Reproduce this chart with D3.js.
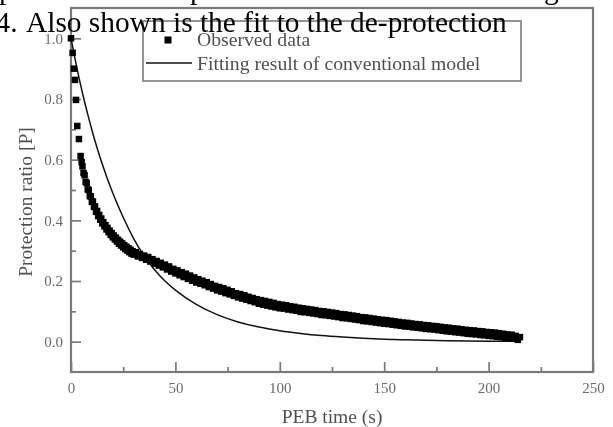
<!DOCTYPE html>
<html><head><meta charset="utf-8">
<script src="https://cdn.jsdelivr.net/npm/d3@7"></script>
<style>html,body{margin:0;padding:0;background:#fff;overflow:hidden}</style>
</head><body>
<svg id="chart" width="613" height="427"></svg>
<script>
// Measured protection ratio during post-exposure bake
const obsTime = [0, 0.8, 1.4, 1.9, 2.4, 3.0, 3.8, 4.6, 5.1,
  5.5, 6, 6.5, 7, 7.5, 8, 8.5, 9, 9.5, 10,
  10.5, 11, 11.5, 12, 12.5, 13, 13.5, 14, 14.5, 15,
  15.5, 16, 16.5, 17, 17.5, 18, 18.5, 19, 19.5, 20,
  20.5, 21, 21.5, 22, 22.5, 23, 23.5, 24, 24.5, 25,
  25.5, 26, 26.5, 27, 27.5, 28, 28.5, 29, 29.5, 30,
  31, 32, 33, 34, 35, 36, 37, 38, 39, 40,
  41, 42, 43, 44, 45, 46, 47, 48, 49, 50,
  51, 52, 53, 54, 55, 56, 57, 58, 59, 60,
  61, 62, 63, 64, 65, 66, 67, 68, 69, 70,
  71, 72, 73, 74, 75, 76, 77, 78, 79, 80,
  81, 82, 83, 84, 85, 86, 87, 88, 89, 90,
  91, 92, 93, 94, 95, 96, 97, 98, 99, 100,
  101, 102, 103, 104, 105, 106, 107, 108, 109, 110,
  111, 112, 113, 114, 115, 116, 117, 118, 119, 120,
  121, 122, 123, 124, 125, 126, 127, 128, 129, 130,
  131, 132, 133, 134, 135, 136, 137, 138, 139, 140,
  141, 142, 143, 144, 145, 146, 147, 148, 149, 150,
  151, 152, 153, 154, 155, 156, 157, 158, 159, 160,
  161, 162, 163, 164, 165, 166, 167, 168, 169, 170,
  171, 172, 173, 174, 175, 176, 177, 178, 179, 180,
  181, 182, 183, 184, 185, 186, 187, 188, 189, 190,
  191, 192, 193, 194, 195, 196, 197, 198, 199, 200,
  201, 202, 203, 204, 205, 206, 207, 208, 209, 210,
  211, 212, 213, 214, 215];
const obsRatio = [1.0, 0.952, 0.9, 0.863, 0.797, 0.711, 0.668, 0.612, 0.592,
  0.578, 0.556, 0.549, 0.527, 0.523, 0.502, 0.500, 0.480, 0.479, 0.461,
  0.462, 0.444, 0.446, 0.428, 0.431, 0.414, 0.418, 0.402, 0.406, 0.390,
  0.394, 0.380, 0.384, 0.370, 0.375, 0.361, 0.366, 0.352, 0.358, 0.344,
  0.350, 0.337, 0.343, 0.330, 0.336, 0.323, 0.330, 0.317, 0.324, 0.311,
  0.318, 0.305, 0.313, 0.300, 0.308, 0.295, 0.303, 0.290, 0.298, 0.287,
  0.295, 0.281, 0.289, 0.276, 0.284, 0.270, 0.279, 0.264, 0.272, 0.257,
  0.266, 0.251, 0.260, 0.245, 0.254, 0.238, 0.248, 0.231, 0.240, 0.225,
  0.235, 0.219, 0.229, 0.213, 0.224, 0.207, 0.218, 0.201, 0.212, 0.195,
  0.206, 0.191, 0.201, 0.186, 0.196, 0.180, 0.190, 0.175, 0.184, 0.169,
  0.180, 0.165, 0.176, 0.160, 0.171, 0.156, 0.166, 0.151, 0.160, 0.146,
  0.157, 0.142, 0.153, 0.138, 0.148, 0.134, 0.144, 0.130, 0.140, 0.125,
  0.137, 0.122, 0.134, 0.119, 0.131, 0.116, 0.128, 0.113, 0.124, 0.110,
  0.122, 0.109, 0.120, 0.106, 0.117, 0.104, 0.115, 0.102, 0.112, 0.098,
  0.110, 0.097, 0.108, 0.095, 0.106, 0.093, 0.104, 0.091, 0.101, 0.088,
  0.100, 0.087, 0.098, 0.085, 0.096, 0.083, 0.094, 0.081, 0.091, 0.078,
  0.090, 0.077, 0.088, 0.075, 0.086, 0.073, 0.084, 0.071, 0.081, 0.068,
  0.080, 0.067, 0.078, 0.065, 0.076, 0.063, 0.074, 0.061, 0.072, 0.059,
  0.071, 0.058, 0.069, 0.056, 0.067, 0.054, 0.065, 0.052, 0.063, 0.050,
  0.062, 0.049, 0.060, 0.047, 0.058, 0.046, 0.057, 0.044, 0.055, 0.042,
  0.054, 0.041, 0.052, 0.040, 0.051, 0.038, 0.049, 0.036, 0.047, 0.034,
  0.046, 0.033, 0.044, 0.031, 0.043, 0.030, 0.041, 0.028, 0.039, 0.026,
  0.038, 0.025, 0.037, 0.024, 0.035, 0.022, 0.034, 0.021, 0.032, 0.019,
  0.031, 0.018, 0.030, 0.016, 0.028, 0.015, 0.026, 0.013, 0.024, 0.011,
  0.023, 0.010, 0.019, 0.006, 0.015];

// Conventional-model fit curve
const fitTime = [0, 2, 4, 6, 8, 10, 12, 15, 20, 25, 30, 35, 40, 45, 50, 60, 70, 80, 90, 100, 110, 120, 130, 140, 150, 160, 180, 200, 215];
const fitRatio = [1.0, 0.93, 0.865, 0.805, 0.75, 0.698, 0.65, 0.585, 0.49, 0.41, 0.34, 0.283, 0.237, 0.2, 0.17, 0.123, 0.089, 0.065, 0.048, 0.036, 0.027, 0.02, 0.015, 0.011, 0.008, 0.006, 0.003, 0.0015, 0.001];

const xTickValues = [0, 50, 100, 150, 200, 250];
const xMinorValues = [25, 75, 125, 175, 225];
const yTickValues = [0.0, 0.2, 0.4, 0.6, 0.8, 1.0];
const yMinorValues = [0.1, 0.3, 0.5, 0.7, 0.9];
const legendLabels = ["Observed data", "Fitting result of conventional model"];
const xTitle = "PEB time (s)";
const yTitle = "Protection ratio [P]";
const captionNumber = "4.";
const captionText = "Also shown is the fit to the de-protection";
const prevLineGlyphs = [["p", -1], ["p", 190], ["g", 544]];

const serif = "'Liberation Serif', 'Times New Roman', serif";
const axisGray = "#7a7a7a";
const svg = d3.select("#chart");

svg.append("defs").append("filter").attr("id", "soft")
  .append("feGaussianBlur").attr("stdDeviation", 0.45);

const x = d3.scaleLinear().domain([0, 250]).range([71, 593]);
const y = d3.scaleLinear().domain([-0.1, 1.1]).range([372, 8]);

const frameLayer = svg.append("g").attr("filter", "url(#soft)");

// Axes with inward ticks
const gx = frameLayer.append("g").attr("transform", "translate(0,372)")
  .call(d3.axisBottom(x).tickValues(xTickValues).tickSize(-10).tickPadding(10).tickFormat(d3.format("d")));
const gxm = frameLayer.append("g").attr("transform", "translate(0,372)")
  .call(d3.axisBottom(x).tickValues(xMinorValues).tickSize(-5).tickFormat(""));
const gy = frameLayer.append("g").attr("transform", "translate(71,0)")
  .call(d3.axisLeft(y).tickValues(yTickValues).tickSize(-10).tickPadding(8).tickFormat(d3.format(".1f")));
const gym = frameLayer.append("g").attr("transform", "translate(71,0)")
  .call(d3.axisLeft(y).tickValues(yMinorValues).tickSize(-5).tickFormat(""));

[gx, gxm, gy, gym].forEach(g => {
  g.select(".domain").remove();
  g.selectAll(".tick line").attr("stroke", axisGray).attr("stroke-width", 1.7);
  g.selectAll(".tick text").attr("fill", "#6a6a6a").style("font-family", serif).style("font-size", "15px");
});

// Frame
frameLayer.append("rect").attr("x", x(0)).attr("y", y(1.1))
  .attr("width", x(250) - x(0)).attr("height", y(-0.1) - y(1.1))
  .attr("fill", "none").attr("stroke", axisGray).attr("stroke-width", 2.2);

// Axis titles
frameLayer.append("text").attr("x", (x(0) + x(250)) / 2).attr("y", 423)
  .attr("text-anchor", "middle").attr("fill", "#505050")
  .style("font-family", serif).style("font-size", "19.5px").text(xTitle);
frameLayer.append("text").attr("transform", "translate(32,202) rotate(-90)")
  .attr("text-anchor", "middle").attr("fill", "#505050")
  .style("font-family", serif).style("font-size", "19.5px").text(yTitle);

// Fit curve
const fitData = fitTime.map((t, i) => [t, fitRatio[i]]);
svg.append("path").datum(fitData)
  .attr("d", d3.line().x(d => x(d[0])).y(d => y(d[1])).curve(d3.curveMonotoneX))
  .attr("fill", "none").attr("stroke", "#111").attr("stroke-width", 1.5);

// Observed points
const obsData = obsTime.map((t, i) => [t, obsRatio[i]]);
const sq = 6.5;
svg.append("g").selectAll("rect").data(obsData).join("rect")
  .attr("x", d => x(d[0]) - sq / 2).attr("y", d => y(d[1]) - sq / 2)
  .attr("width", sq).attr("height", sq).attr("fill", "#000");

// Legend
const lg = svg.append("g").attr("filter", "url(#soft)");
lg.append("rect").attr("x", 143).attr("y", 21).attr("width", 378).attr("height", 60)
  .attr("fill", "#fff").attr("stroke", "#8a8a8a").attr("stroke-width", 1.8);
lg.append("rect").attr("x", 164.5).attr("y", 36.5).attr("width", 7).attr("height", 7).attr("fill", "#000");
lg.append("line").attr("x1", 146).attr("x2", 192).attr("y1", 63).attr("y2", 63)
  .attr("stroke", "#111").attr("stroke-width", 1.5);
lg.selectAll("text.lab").data(legendLabels).join("text").attr("class", "lab")
  .attr("x", 197).attr("y", (d, i) => 46 + i * 24)
  .attr("fill", "#505050").style("font-family", serif).style("font-size", "19.7px").text(d => d);

// Surrounding page text
svg.append("text").attr("x", -4.5).attr("y", 32).attr("fill", "#000")
  .style("font-family", serif).style("font-size", "29.4px").text(captionNumber);
svg.append("text").attr("x", 26).attr("y", 32).attr("fill", "#000")
  .style("font-family", serif).style("font-size", "29.4px").text(captionText);
svg.selectAll("text.prev").data(prevLineGlyphs).join("text").attr("class", "prev")
  .attr("x", d => d[1]).attr("y", -1.5).attr("fill", "#000")
  .style("font-family", serif).style("font-size", "29.4px").text(d => d[0]);
</script>
</body></html>
